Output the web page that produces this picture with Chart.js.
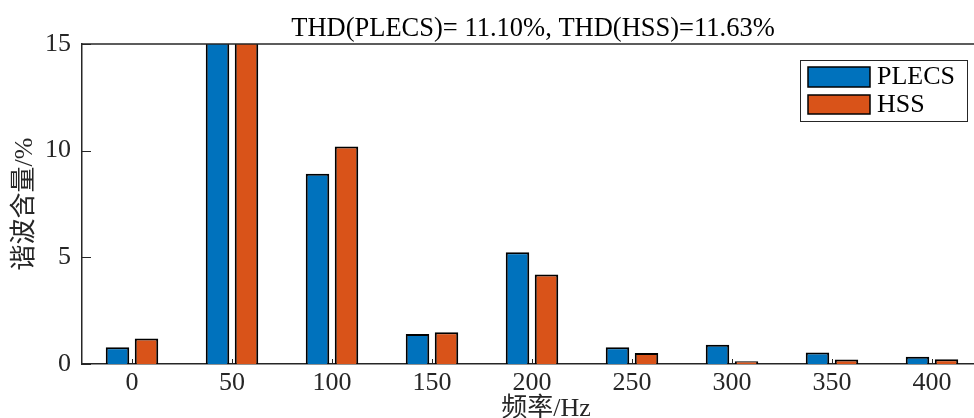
<!DOCTYPE html>
<html>
<head>
<meta charset="utf-8">
<script src="https://cdn.jsdelivr.net/npm/chart.js@4/dist/chart.umd.min.js"></script>
<style>
  html, body { margin: 0; padding: 0; background: #fff; overflow: hidden; width: 974px; height: 418px; }
  #wrap { position: relative; width: 990px; height: 418px; }
</style>
</head>
<body>
<div id="wrap"><canvas id="chart"></canvas></div>
<script>
// Harmonic spectrum: frequency (Hz) and harmonic content (%) for both models
const frequencies = [0, 50, 100, 150, 200, 250, 300, 350, 400];
const plecsValues = [0.79, 100, 8.92, 1.41, 5.24, 0.79, 0.90, 0.54, 0.34];
const hssValues   = [1.20, 100, 10.20, 1.49, 4.20, 0.52, 0.13, 0.21, 0.22];
const yTickValues = [0, 5, 10, 15];
const seriesNames = ['PLECS', 'HSS'];
const titleText = 'THD(PLECS)= 11.10%, THD(HSS)=11.63%';
const xAxisTitle = '频率/Hz';
const yAxisTitle = '谐波含量/%';

const FONT = '"Liberation Serif", "Times New Roman", "Noto Sans CJK SC", serif';
const AXIS_COLOR = '#262626';
const seriesColors = ['#0072BD', '#D95319'];

const toPoints = vals => frequencies.map((f, i) => ({ x: f, y: vals[i] }));

// Axes box, inward tick marks, titles and framed legend
const decorations = {
  id: 'decorations',
  afterDraw(chart) {
    const { ctx, chartArea: a, scales } = chart;
    const x = scales.x, y = scales.y;
    ctx.save();
    ctx.strokeStyle = AXIS_COLOR;
    ctx.lineWidth = 1.5;
    // top edge of the box
    ctx.beginPath();
    ctx.moveTo(a.left, a.top);
    ctx.lineTo(a.right, a.top);
    ctx.stroke();
    // inward ticks
    ctx.lineWidth = 1;
    ctx.beginPath();
    frequencies.forEach(f => {
      const px = Math.round(x.getPixelForValue(f)) + 0.5;
      ctx.moveTo(px, a.bottom);
      ctx.lineTo(px, a.bottom - 5);
    });
    yTickValues.forEach(v => {
      const py = Math.round(y.getPixelForValue(v)) + 0.5;
      ctx.moveTo(a.left, py);
      ctx.lineTo(a.left + 9, py);
    });
    ctx.stroke();

    // title
    ctx.fillStyle = '#000';
    ctx.font = '26.5px ' + FONT;
    ctx.textAlign = 'center';
    ctx.textBaseline = 'alphabetic';
    ctx.fillText(titleText, 533, 36);

    // axis titles
    ctx.font = '26px ' + FONT;
    ctx.fillStyle = AXIS_COLOR;
    ctx.fillText(xAxisTitle, 546, 416);
    ctx.save();
    ctx.translate(25, 204);
    ctx.rotate(-Math.PI / 2);
    ctx.textBaseline = 'middle';
    ctx.fillText(yAxisTitle, 0, 0);
    ctx.restore();

    // legend
    ctx.fillStyle = '#fff';
    ctx.fillRect(800.5, 60.5, 167, 61);
    ctx.strokeStyle = AXIS_COLOR;
    ctx.lineWidth = 1;
    ctx.strokeRect(800.5, 60.5, 167, 61);
    const rows = [{ y: 67, h: 20, tc: 77.5 }, { y: 95, h: 19, tc: 105 }];
    chart.data.datasets.forEach((ds, i) => {
      const r = rows[i];
      ctx.fillStyle = ds.backgroundColor;
      ctx.fillRect(808, r.y, 62, r.h);
      ctx.strokeStyle = '#000';
      ctx.lineWidth = 1.5;
      ctx.strokeRect(808, r.y, 62, r.h);
      ctx.fillStyle = '#000';
      ctx.textAlign = 'left';
      ctx.textBaseline = 'middle';
      ctx.font = '26px ' + FONT;
      ctx.fillText(ds.label, 877, r.tc);
    });
    ctx.restore();
  }
};

new Chart(document.getElementById('chart'), {
  type: 'bar',
  data: {
    datasets: [
      { label: seriesNames[0], data: toPoints(plecsValues), backgroundColor: seriesColors[0] },
      { label: seriesNames[1], data: toPoints(hssValues), backgroundColor: seriesColors[1] }
    ]
  },
  options: {
    responsive: true,
    maintainAspectRatio: false,
    animation: false,
    devicePixelRatio: 1,
    layout: { padding: { top: 44, right: 8, left: 0, bottom: 0 } },
    datasets: {
      bar: {
        clip: 0,
        borderColor: '#000',
        borderWidth: 2,
        categoryPercentage: 0.58,
        barPercentage: 0.81
      }
    },
    plugins: { legend: { display: false }, title: { display: false }, tooltip: { enabled: false } },
    scales: {
      x: {
        type: 'linear',
        min: -25,
        max: 425,
        offset: false,
        afterBuildTicks: s => { s.ticks = frequencies.map(v => ({ value: v })); },
        afterFit: s => { s.height = 54; },
        grid: { display: false, drawTicks: false },
        border: { display: true, color: AXIS_COLOR, width: 1.5 },
        ticks: { font: { family: FONT, size: 26 }, color: AXIS_COLOR, padding: 4, maxRotation: 0, autoSkip: false }
      },
      y: {
        min: 0,
        max: 15,
        afterBuildTicks: s => { s.ticks = yTickValues.map(v => ({ value: v })); },
        afterFit: s => { s.width = 82; },
        grid: { display: false, drawTicks: false },
        border: { display: true, color: AXIS_COLOR, width: 1.5 },
        ticks: { font: { family: FONT, size: 26 }, color: AXIS_COLOR, padding: 11 }
      }
    }
  },
  plugins: [decorations]
});
</script>
</body>
</html>
